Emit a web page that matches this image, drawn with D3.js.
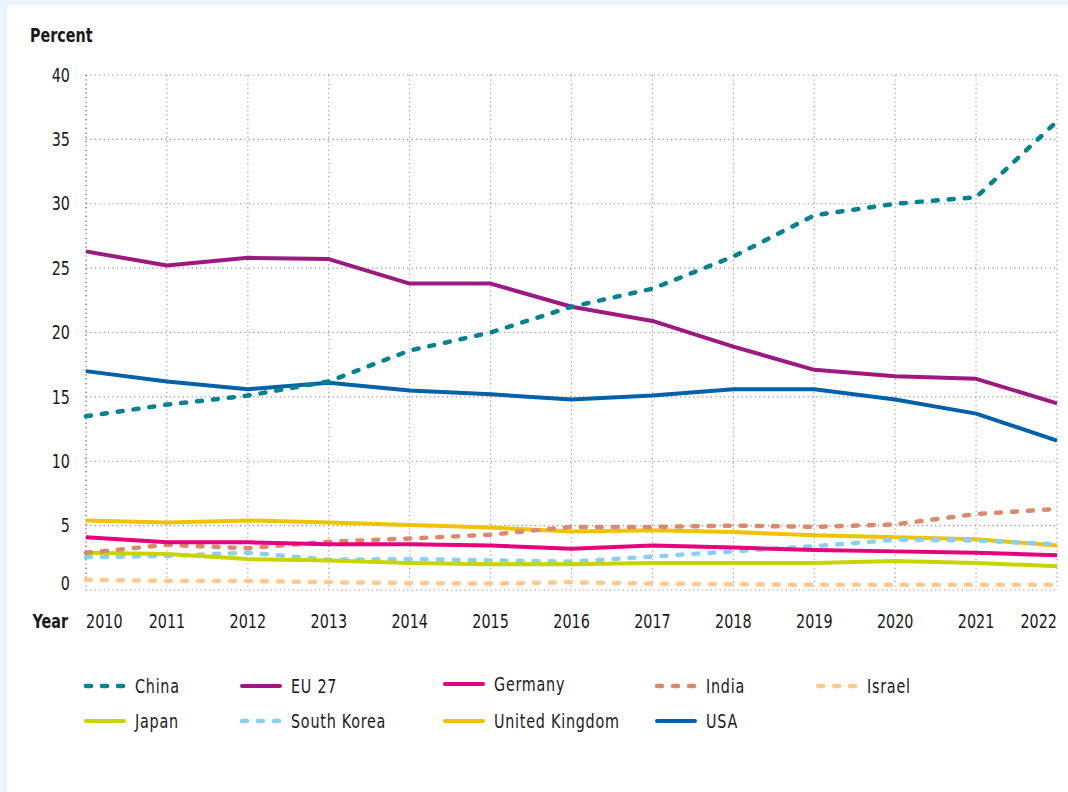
<!DOCTYPE html>
<html>
<head>
<meta charset="utf-8">
<script src="https://cdn.jsdelivr.net/npm/d3@7"></script>
<style>
  html, body { margin: 0; padding: 0; background: #eaf5fc; }
  svg { display: block; }
  text { font-family: "Liberation Sans Narrow", "DejaVu Sans Condensed", "Roboto", sans-serif; fill: #1a1a1a; }
</style>
</head>
<body>
<svg id="chart" width="1068" height="792"></svg>
<script>
const years = [2010, 2011, 2012, 2013, 2014, 2015, 2016, 2017, 2018, 2019, 2020, 2021, 2022];
const yTicks = [0, 5, 10, 15, 20, 25, 30, 35, 40];
const seriesNames = ["China", "EU 27", "Germany", "India", "Israel", "Japan", "South Korea", "United Kingdom", "USA"];
const seriesColors = ["#00838f", "#9c1a80", "#e5007d", "#d98a6c", "#fdca8c", "#c8d400", "#8ad0f2", "#f0c300", "#0060a8"];
const seriesDashed = [true, false, false, true, true, false, true, false, false];

const china = [13.5, 14.4, 15.1, 16.2, 18.6, 20.0, 22.0, 23.4, 25.9, 29.1, 30.0, 30.5, 36.4];
const eu27 = [26.3, 25.2, 25.8, 25.7, 23.8, 23.8, 22.0, 20.9, 18.9, 17.1, 16.6, 16.4, 14.5];
const germany = [4.1, 3.7, 3.7, 3.55, 3.55, 3.45, 3.2, 3.45, 3.3, 3.1, 3.0, 2.9, 2.7];
const india = [2.9, 3.5, 3.25, 3.75, 4.0, 4.3, 4.9, 4.9, 5.0, 4.9, 5.1, 5.9, 6.3];
const israel = [0.8, 0.7, 0.7, 0.6, 0.55, 0.5, 0.6, 0.5, 0.45, 0.4, 0.4, 0.4, 0.4];
const japan = [2.9, 2.8, 2.4, 2.3, 2.1, 2.0, 2.0, 2.1, 2.1, 2.1, 2.25, 2.1, 1.85];
const southKorea = [2.55, 2.65, 2.9, 2.35, 2.4, 2.3, 2.2, 2.6, 3.0, 3.4, 3.9, 3.85, 3.55];
const uk = [5.4, 5.25, 5.4, 5.25, 5.05, 4.85, 4.55, 4.65, 4.5, 4.25, 4.1, 3.95, 3.45];
const usa = [17.0, 16.2, 15.6, 16.1, 15.5, 15.2, 14.8, 15.1, 15.6, 15.6, 14.8, 13.7, 11.6];
const seriesValues = [china, eu27, germany, india, israel, japan, southKorea, uk, usa];

const FS = 19, SX = 0.84;
const svg = d3.select("#chart");
svg.append("rect").attr("x", 7).attr("y", 5).attr("width", 1061).attr("height", 787).attr("fill", "#ffffff");

const x = d3.scaleLinear().domain([2010, 2022]).range([86, 1057]);
const y = d3.scaleLinear().domain([0, 40]).range([590, 75]);

function label(sel, fx, fy, anchor) {
  return sel.attr("transform", (d, i) => `translate(${fx(d, i)},${fy(d, i)}) scale(${SX},1)`)
    .attr("x", 0).attr("y", 0).attr("dy", "0.35em")
    .attr("text-anchor", typeof anchor === "function" ? anchor : () => anchor)
    .attr("font-size", FS);
}

// grid
const grid = svg.append("g");
grid.selectAll("line.h").data(yTicks).join("line")
  .attr("x1", x(2010)).attr("x2", x(2022))
  .attr("y1", d => y(d)).attr("y2", d => y(d))
  .attr("stroke", "#8f8f8f").attr("stroke-width", 1.2).attr("stroke-dasharray", "1.2,3.2");
grid.selectAll("line.v").data(years).join("line")
  .attr("x1", d => x(d)).attr("x2", d => x(d))
  .attr("y1", y(40)).attr("y2", y(0))
  .attr("stroke", d => d === 2010 ? "#555" : "#9a9a9a").attr("stroke-width", 1.2).attr("stroke-dasharray", "1.2,3.2");

// y tick labels
label(svg.append("g").selectAll("text").data(yTicks).join("text"),
  () => 70, d => d === 0 ? y(d) - 7 : y(d), "end").text(d => d);

// x tick labels
label(svg.append("g").selectAll("text").data(years).join("text"),
  d => x(d), () => 621, d => d === 2010 ? "start" : (d === 2022 ? "end" : "middle")).text(d => d);

label(svg.append("text").datum(0), () => 30, () => 35, "start").attr("font-weight", "bold").text("Percent");
label(svg.append("text").datum(0), () => 68, () => 621, "end").attr("font-weight", "bold").text("Year");

// lines
const line = d3.line().x((d, i) => x(years[i])).y(d => y(d));
const order = d3.range(seriesNames.length).reverse();
svg.append("g").selectAll("path").data(order).join("path")
  .attr("d", i => line(seriesValues[i]))
  .attr("fill", "none")
  .attr("stroke", i => seriesColors[i])
  .attr("stroke-width", i => seriesDashed[i] ? 4.5 : 4)
  .attr("stroke-linecap", i => seriesDashed[i] ? "round" : "butt")
  .attr("stroke-linejoin", "round")
  .attr("stroke-dasharray", i => seriesDashed[i] ? "5,11" : null);

// legend
const legCols = [84, 240, 443, 655, 816];
const legRows = [686, 721];
const leg = svg.append("g").selectAll("g").data(seriesNames).join("g")
  .attr("transform", (d, i) => {
    const dy = (d === "Germany") ? -2 : 0;
    return `translate(${legCols[i % 5]},${legRows[Math.floor(i / 5)] + dy})`;
  });
leg.append("line")
  .attr("x1", 2).attr("x2", 40).attr("y1", 0).attr("y2", 0)
  .attr("stroke", (d, i) => seriesColors[i])
  .attr("stroke-width", (d, i) => seriesDashed[i] ? 4.5 : 4)
  .attr("stroke-linecap", "round")
  .attr("stroke-dasharray", (d, i) => seriesDashed[i] ? "5,11" : null);
label(leg.append("text"), () => 51, () => 0, "start").attr("letter-spacing", 0.9).text(d => d);
</script>
</body>
</html>
